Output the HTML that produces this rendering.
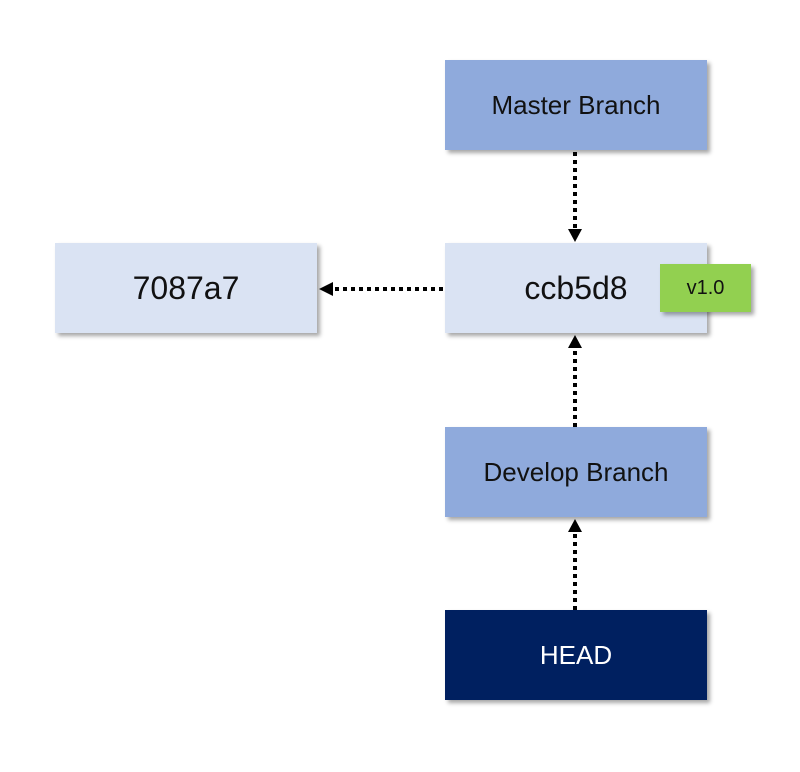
<!DOCTYPE html>
<html><head><style>
body{margin:0;width:800px;height:772px;background:#fff;position:relative;font-family:"Liberation Sans",sans-serif;overflow:hidden}
.b{position:absolute;display:flex;align-items:center;justify-content:center;box-shadow:3px 3px 4px rgba(0,0,0,0.35);color:#111}
</style></head><body>
<div class="b" style="left:445px;top:60px;width:262px;height:90px;background:#8faadc;font-size:26px">Master Branch</div>
<div class="b" style="left:55px;top:243px;width:262px;height:90px;background:#dae3f3;font-size:32px">7087a7</div>
<div class="b" style="left:445px;top:243px;width:262px;height:90px;background:#dae3f3;font-size:32px">ccb5d8</div>
<div class="b" style="left:660px;top:264px;width:91px;height:48px;background:#92d050;font-size:20px">v1.0</div>
<div class="b" style="left:445px;top:427px;width:262px;height:90px;background:#8faadc;font-size:26px">Develop Branch</div>
<div class="b" style="left:445px;top:610px;width:262px;height:90px;background:#002060;font-size:26px;color:#fff">HEAD</div>
<svg width="800" height="772" style="position:absolute;left:0;top:0">
<g stroke="#000" stroke-width="4" stroke-dasharray="4 4" fill="none">
<line x1="575" y1="152" x2="575" y2="230"/>
<line x1="443" y1="289" x2="332" y2="289"/>
<line x1="575" y1="427" x2="575" y2="347"/>
<line x1="575" y1="610" x2="575" y2="531"/>
</g>
<g fill="#000">
<polygon points="568,229 582,229 575,242"/>
<polygon points="333,282 333,296 319,289"/>
<polygon points="568,348 582,348 575,335"/>
<polygon points="568,532 582,532 575,519"/>
</g>
</svg>
</body></html>
